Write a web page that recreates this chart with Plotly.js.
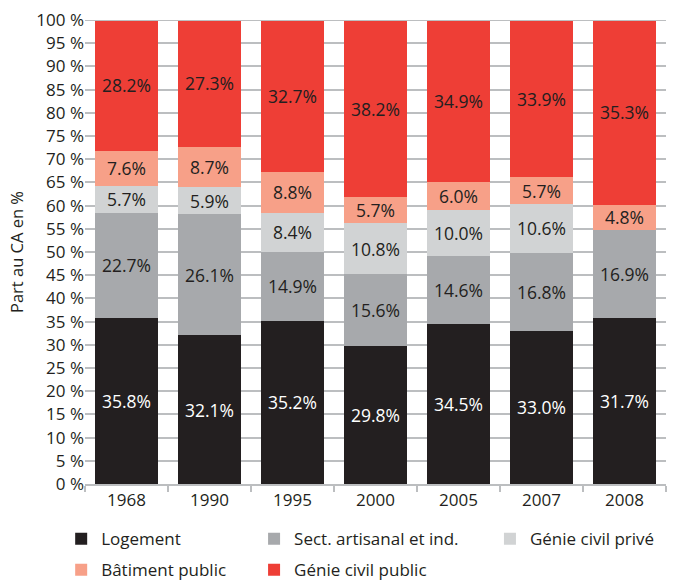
<!DOCTYPE html>
<html><head><meta charset="utf-8">
<script src="https://cdn.plot.ly/plotly-3.0.1.min.js"></script>
<style>html,body{margin:0;padding:0;background:#fff}</style>
</head><body>
<div id="chart" style="width:674px;height:582px"></div>
<script>
const years = ['1968','1990','1995','2000','2005','2007','2008'];
const logement = [35.8, 32.1, 35.2, 29.8, 34.5, 33.0, 31.7];
const sectArtisanal = [22.7, 26.1, 14.9, 15.6, 14.6, 16.8, 16.9];
const genieCivilPrive = [5.7, 5.9, 8.4, 10.8, 10.0, 10.6, null];
const batimentPublic = [7.6, 8.7, 8.8, 5.7, 6.0, 5.7, 4.8];
const genieCivilPublic = [28.2, 27.3, 32.7, 38.2, 34.9, 33.9, 35.3];
const seriesNames = ['Logement', 'Sect. artisanal et ind.', 'Génie civil privé', 'Bâtiment public', 'Génie civil public'];

const colors = ['#231f20', '#a7a9ac', '#d1d3d4', '#f7a088', '#ee3e36'];
const textColors = ['#ffffff', '#231f20', '#231f20', '#231f20', '#231f20'];
const allSeries = [logement, sectArtisanal, genieCivilPrive, batimentPublic, genieCivilPublic];
const legendIds = ['legend', 'legend2', 'legend3', 'legend4', 'legend5'];
const FONT = '"Open Sans", sans-serif';

const traces = allSeries.map((vals, i) => ({
  type: 'bar',
  name: seriesNames[i],
  x: years,
  y: vals,
  text: vals.map(v => v == null ? '' : v.toFixed(1) + '%'),
  textposition: 'inside',
  insidetextanchor: 'middle',
  textangle: 0,
  constraintext: 'none',
  textfont: {family: FONT, size: 17.5, color: textColors[i]},
  marker: {color: colors[i], line: {width: 0}},
  hoverinfo: 'skip',
  legend: legendIds[i]
}));

const legendBase = {
  font: {family: FONT, size: 17, color: '#231f20'},
  bgcolor: 'rgba(0,0,0,0)',
  xanchor: 'left', yanchor: 'middle',
  orientation: 'v'
};
const row1 = -0.119, row2 = -0.186;
const col1 = -0.041, col2 = 0.291, col3 = 0.697;

const layout = {
  width: 674, height: 582,
  margin: {l: 85, r: 8, t: 20, b: 98, autoexpand: false},
  paper_bgcolor: '#fff', plot_bgcolor: '#fff',
  barmode: 'stack',
  barnorm: 'percent',
  bargap: 0.23,
  uniformtext: {mode: 'show', minsize: 17.5},
  font: {family: FONT, color: '#231f20'},
  showlegend: true,
  xaxis: {
    type: 'category',
    tickfont: {family: FONT, size: 17, color: '#231f20'},
    showline: true, linecolor: '#bcbec0', linewidth: 1.5,
    ticks: 'outside', tickson: 'boundaries', ticklen: 6, tickcolor: '#bcbec0', tickwidth: 1.5,
    showgrid: false, fixedrange: true
  },
  yaxis: {
    range: [0, 100], dtick: 5, tick0: 0,
    ticksuffix: ' %',
    tickfont: {family: FONT, size: 17, color: '#231f20'},
    showgrid: true, gridcolor: '#bcbec0', gridwidth: 2,
    zeroline: false, showline: false, ticks: '',
    title: {text: 'Part au CA en %', font: {family: FONT, size: 16.5, color: '#231f20'}, standoff: 8},
    fixedrange: true
  },
  shapes: [{type: 'line', xref: 'paper', yref: 'y', x0: 0, x1: 1, y0: 100, y1: 100,
            line: {color: '#bcbec0', width: 2}, layer: 'above'}],
  legend:  Object.assign({}, legendBase, {x: col1, y: row1}),
  legend2: Object.assign({}, legendBase, {x: col2, y: row1}),
  legend3: Object.assign({}, legendBase, {x: col3, y: row1}),
  legend4: Object.assign({}, legendBase, {x: col1, y: row2}),
  legend5: Object.assign({}, legendBase, {x: col2, y: row2})
};

Plotly.newPlot('chart', traces, layout, {displayModeBar: false, staticPlot: true});
</script>
</body></html>
